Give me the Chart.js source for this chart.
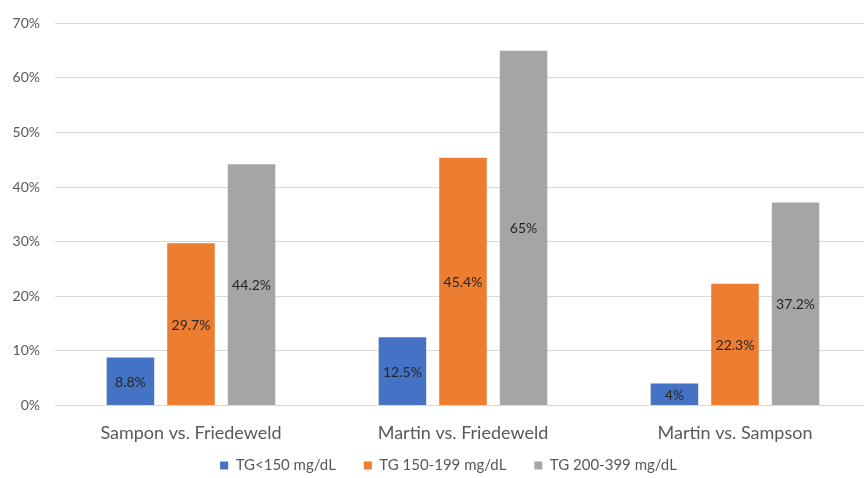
<!DOCTYPE html>
<html>
<head>
<meta charset="utf-8">
<script src="https://cdn.jsdelivr.net/npm/chart.js@4/dist/chart.umd.min.js"></script>
<style>
  html, body { margin: 0; padding: 0; background: #fff; overflow: hidden; }
  #wrap { width: 871px; height: 478px; position: relative; }
</style>
</head>
<body>
<div id="wrap"><canvas id="c"></canvas></div>
<script>
const categories = ['Sampon vs. Friedeweld', 'Martin vs. Friedeweld', 'Martin vs. Sampson'];
const seriesNames = ['TG<150 mg/dL', 'TG 150-199 mg/dL', 'TG 200-399 mg/dL'];
const tgUnder150 = [8.8, 12.5, 4];
const tg150to199 = [29.7, 45.4, 22.3];
const tg200to399 = [44.2, 65, 37.2];
const yTicks = [0, 10, 20, 30, 40, 50, 60, 70];
const colors = ['#4472C4', '#ED7D31', '#A5A5A5'];

const FONT = 'Lato, "Open Sans", "Liberation Sans", sans-serif';
const LEGEND_GAP = 28;      // space between legend items
const LEGEND_HEIGHT = 17;   // height reserved for the legend row
const LEGEND_ITEM_Y = 458;  // top of the legend boxes/text
const LEGEND_SHIFT_X = 8;   // nudges the legend row to the right
const Y_AXIS_WIDTH = 45;

// Writes each bar's value in the middle of the bar
const barValueLabels = {
  id: 'barValueLabels',
  afterDatasetsDraw(chart) {
    const ctx = chart.ctx;
    ctx.save();
    ctx.font = '14px ' + FONT;
    ctx.fillStyle = '#262626';
    ctx.textAlign = 'center';
    ctx.textBaseline = 'middle';
    chart.data.datasets.forEach((ds, di) => {
      const meta = chart.getDatasetMeta(di);
      meta.data.forEach((bar, i) => {
        const v = ds.data[i];
        const y = (bar.y + bar.base) / 2 + 1;
        ctx.fillText(String(v) + '%', bar.x, y);
      });
    });
    ctx.restore();
  }
};

// Keeps the bottom legend compact: wide gaps between items, but a short row
const compactLegend = {
  id: 'compactLegend',
  beforeInit(chart) {
    const legend = chart.legend;
    if (!legend) return;
    const fit = legend.fit;
    legend.fit = function () {
      fit.call(this);
      this.height = LEGEND_HEIGHT;
    };
  },
  afterLayout(chart) {
    const legend = chart.legend;
    if (!legend) return;
    // items are drawn one gap below the box top
    legend.top = LEGEND_ITEM_Y - LEGEND_GAP;
    legend.bottom = chart.height;
    legend.left += LEGEND_SHIFT_X;
    legend.right += LEGEND_SHIFT_X;
  }
};

const seriesData = [tgUnder150, tg150to199, tg200to399];

new Chart(document.getElementById('c'), {
  type: 'bar',
  data: {
    labels: categories,
    datasets: seriesNames.map((name, i) => ({
      label: name,
      data: seriesData[i],
      backgroundColor: colors[i],
      borderWidth: 0,
      categoryPercentage: 0.668,
      barPercentage: 0.785
    }))
  },
  options: {
    responsive: true,
    maintainAspectRatio: false,
    animation: false,
    layout: { padding: { left: 10, right: 0, top: 2, bottom: 0 } },
    scales: {
      x: {
        grid: { display: false, drawTicks: false },
        border: { display: false },
        ticks: { color: '#595959', font: { family: FONT, size: 18 }, padding: 17 }
      },
      y: {
        min: 0,
        max: 70,
        afterBuildTicks(axis) { axis.ticks = yTicks.map(v => ({ value: v })); },
        afterFit(axis) { axis.width = Y_AXIS_WIDTH; },
        grid: { color: '#D9D9D9', lineWidth: 1, drawTicks: false },
        border: { display: false },
        ticks: {
          color: '#595959',
          font: { family: FONT, size: 14 },
          padding: 15,
          callback: v => v + '%'
        }
      }
    },
    plugins: {
      legend: {
        position: 'bottom',
        labels: {
          color: '#595959',
          font: { family: FONT, size: 15 },
          boxWidth: 8,
          boxHeight: 8,
          padding: LEGEND_GAP
        }
      },
      tooltip: { enabled: false }
    }
  },
  plugins: [compactLegend, barValueLabels]
});
</script>
</body>
</html>
